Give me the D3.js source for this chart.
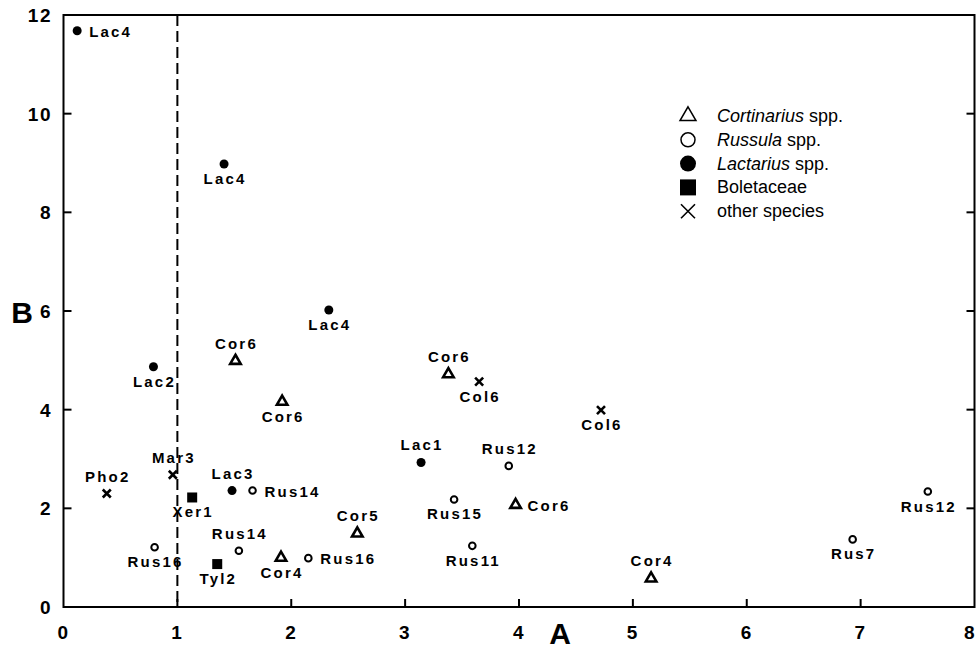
<!DOCTYPE html>
<meta charset="utf-8">
<style>
 body { margin: 0; background: #fff; }
 text { font-family: "Liberation Sans", Arial, Helvetica, sans-serif; fill: #000; }
 .tick-label { font-size: 19px; font-weight: bold; letter-spacing: 1.5px; }
 .pt-label { font-size: 15px; font-weight: bold; letter-spacing: 2.2px; }
 .axis-title { font-size: 30px; font-weight: bold; }
 .legend text { font-size: 18px; }
</style>
<body>
<div id="chart"></div>
<script src="https://cdn.jsdelivr.net/npm/d3@7"></script>
<script>
// point data
var labels  = ["Lac4","Lac4","Lac4","Lac2","Cor6","Cor6","Cor6","Col6","Col6","Lac1",
               "Rus12","Rus15","Cor6","Cor5","Rus11","Rus16","Cor4","Rus14","Tyl2","Rus16",
               "Xer1","Lac3","Rus14","Mar3","Pho2","Cor4","Rus7","Rus12"];
var groups  = ["Lactarius","Lactarius","Lactarius","Lactarius","Cortinarius","Cortinarius","Cortinarius","other","other","Lactarius",
               "Russula","Russula","Cortinarius","Cortinarius","Russula","Russula","Cortinarius","Russula","Boletaceae","Russula",
               "Boletaceae","Lactarius","Russula","other","other","Cortinarius","Russula","Russula"];
var xValues = [0.12,1.41,2.33,0.79,1.51,1.92,3.38,3.65,4.72,3.14,
               3.91,3.43,3.97,2.58,3.59,2.15,1.91,1.54,1.35,0.80,
               1.13,1.48,1.66,0.96,0.38,5.16,6.93,7.59];
var yValues = [11.68,8.98,6.02,4.87,4.99,4.16,4.72,4.57,3.99,2.93,
               2.86,2.18,2.07,1.49,1.24,0.99,1.00,1.14,0.87,1.21,
               2.22,2.36,2.36,2.68,2.30,0.58,1.37,2.34];
var labelPos = ["right","below","below","below","above","below","above","below","below","above",
                "above","below","right","above","below","right","below","above","below","below",
                "below","above","right","above","above","above","below","below"];

var xTicks = [0,1,2,3,4,5,6,7,8];
var yTicks = [0,2,4,6,8,10,12];
var cutoff = 1;

var legendKeys   = ["Cortinarius","Russula","Lactarius","Boletaceae","other"];
var legendItalic = ["Cortinarius","Russula","Lactarius","",""];
var legendRest   = [" spp."," spp."," spp.","Boletaceae","other species"];

(function(){
  var width = 976, height = 652;
  var svg = d3.select("#chart").append("svg")
      .attr("width", width).attr("height", height);

  var x = d3.scaleLinear().domain([0, 8]).range([63.5, 974.5]);
  var y = d3.scaleLinear().domain([0, 12]).range([607, 15]);

  // frame
  svg.append("rect")
      .attr("x", x(0)).attr("y", y(12))
      .attr("width", x(8) - x(0)).attr("height", y(0) - y(12))
      .attr("fill", "none").attr("stroke", "#000").attr("stroke-width", 2);

  // inward ticks
  var tk = svg.append("g").attr("stroke", "#000").attr("stroke-width", 2);
  tk.selectAll(".tx").data(xTicks.slice(1, -1)).enter().append("line")
      .attr("x1", d => x(d)).attr("x2", d => x(d))
      .attr("y1", y(0)).attr("y2", y(0) - 8);
  tk.selectAll(".ty").data(yTicks.slice(1, -1)).enter().append("line")
      .attr("x1", x(0)).attr("x2", x(0) + 8)
      .attr("y1", d => y(d)).attr("y2", d => y(d));
  tk.selectAll(".tr").data(yTicks.slice(1, -1)).enter().append("line")
      .attr("x1", x(8)).attr("x2", x(8) - 8)
      .attr("y1", d => y(d)).attr("y2", d => y(d));

  // tick labels
  svg.selectAll(".xl").data(xTicks).enter().append("text")
      .attr("class", "tick-label")
      .attr("x", d => d === 8 ? width : x(d)).attr("y", 639)
      .attr("text-anchor", d => d === 8 ? "end" : "middle").text(d => d);
  svg.selectAll(".yl").data(yTicks).enter().append("text")
      .attr("class", "tick-label")
      .attr("x", 52).attr("y", d => y(d) + 7)
      .attr("text-anchor", "end").text(d => d);

  svg.append("text").attr("class", "axis-title")
      .attr("x", 560).attr("y", 644).attr("text-anchor", "middle").text("A");
  svg.append("text").attr("class", "axis-title")
      .attr("x", 22).attr("y", 323).attr("text-anchor", "middle").text("B");

  // dashed cutoff line
  svg.append("line")
      .attr("x1", x(cutoff)).attr("x2", x(cutoff))
      .attr("y1", y(12)).attr("y2", y(0))
      .attr("stroke", "#000").attr("stroke-width", 2)
      .attr("stroke-dasharray", "11,5");

  var xPath = function(s) { return "M" + (-s) + "," + (-s) + "L" + s + "," + s + "M" + (-s) + "," + s + "L" + s + "," + (-s); };

  function drawSymbol(g, grp, big) {
    if (grp === "Cortinarius") {
      g.append("path").attr("d", d3.symbol().type(d3.symbolTriangle).size(big ? 110 : 48)())
        .attr("fill", "none").attr("stroke", "#000").attr("stroke-width", big ? 1.5 : 2.6)
        .attr("stroke-linejoin", "miter");
    } else if (grp === "Russula") {
      g.append("circle").attr("r", big ? 7 : 3.3)
        .attr("fill", "none").attr("stroke", "#000").attr("stroke-width", big ? 1.5 : 2);
    } else if (grp === "Lactarius") {
      g.append("circle").attr("r", big ? 8 : 4.5).attr("fill", "#000");
    } else if (grp === "Boletaceae") {
      var s = big ? 16 : 10;
      g.append("rect").attr("x", -s / 2).attr("y", -s / 2).attr("width", s).attr("height", s).attr("fill", "#000");
    } else {
      g.append("path").attr("d", xPath(big ? 7 : 4))
        .attr("stroke", "#000").attr("stroke-width", big ? 1.6 : 2.6).attr("fill", "none");
    }
  }

  // points
  var pts = svg.append("g").selectAll("g").data(labels).enter().append("g")
      .attr("transform", (d, i) => "translate(" + x(xValues[i]) + "," + y(yValues[i]) + ")");
  pts.each(function(d, i) { drawSymbol(d3.select(this), groups[i], false); });

  pts.append("text").attr("class", "pt-label")
      .attr("text-anchor", (d, i) => labelPos[i] === "right" ? "start" : "middle")
      .attr("x", (d, i) => labelPos[i] === "right" ? 12 : 1)
      .attr("y", (d, i) => labelPos[i] === "right" ? 6 : (labelPos[i] === "below" ? 20 : -12))
      .text(d => d);

  // legend
  var lg = svg.append("g").attr("class", "legend");
  var rows = lg.selectAll("g").data(legendKeys).enter().append("g")
      .attr("transform", (d, i) => "translate(688," + (116 + i * 23.8) + ")");
  rows.each(function(d) { drawSymbol(d3.select(this), d, true); });
  var tx = rows.append("text").attr("x", 29).attr("y", 6);
  tx.append("tspan").attr("font-style", "italic").text((d, i) => legendItalic[i]);
  tx.append("tspan").text((d, i) => legendRest[i]);
})();
</script>
</body>
